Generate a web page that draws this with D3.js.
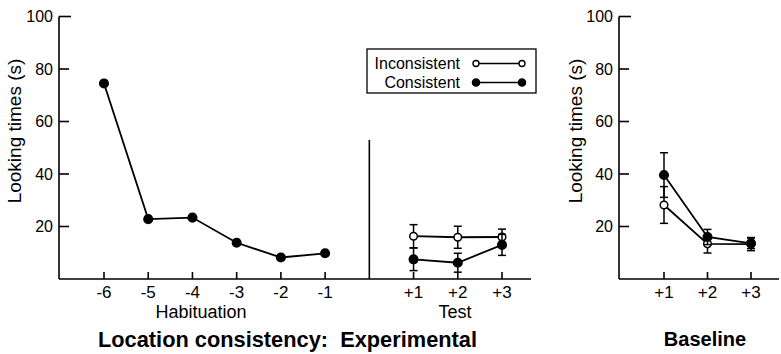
<!DOCTYPE html>
<html><head><meta charset="utf-8">
<script src="https://cdn.jsdelivr.net/npm/d3@7"></script>
<style>body{margin:0;background:#fff}svg{display:block}text{font-family:"Liberation Sans",Arial,sans-serif;fill:#000}</style>
</head><body>
<svg id="c" width="781" height="354"></svg>
<script>
// Data
const habTrials = [-6, -5, -4, -3, -2, -1];
const habValues = [74.5, 22.8, 23.4, 13.8, 8.2, 9.8];
const testTrials = [1, 2, 3];
const testInconsistent = [16.3, 15.9, 16.0];
const testInconsistentErr = [4.4, 4.2, 3.0];
const testConsistent = [7.5, 6.2, 13.0];
const testConsistentErr = [4.3, 3.6, 4.0];
const baseTrials = [1, 2, 3];
const baseInconsistent = [28.2, 13.4, 13.3];
const baseInconsistentErr = [7.0, 3.5, 2.5];
const baseConsistent = [39.6, 16.0, 13.6];
const baseConsistentErr = [8.5, 2.9, 2.0];
const yTicks = [20, 40, 60, 80, 100];
const habTickLabels = ["-6", "-5", "-4", "-3", "-2", "-1"];
const testTickLabels = ["+1", "+2", "+3"];
const legendLabels = ["Inconsistent", "Consistent"];

const svg = d3.select("#c");
const y = d3.scaleLinear().domain([0, 100]).range([279, 16.5]);
const xL = d3.scaleLinear().domain([-6, 3]).range([104, 502]);
const xR = d3.scaleLinear().domain([1, 3]).range([664, 751]);

function yAxis(x0, labelX) {
  const g = svg.append("g");
  g.append("line").attr("x1", x0).attr("x2", x0).attr("y1", y(100)).attr("y2", y(0)).attr("stroke", "#000").attr("stroke-width", 1.6);
  yTicks.forEach(t => {
    g.append("line").attr("x1", x0).attr("x2", x0 + (t === 100 ? 12 : 10)).attr("y1", y(t)).attr("y2", y(t)).attr("stroke", "#000").attr("stroke-width", 1.6);
    g.append("text").attr("x", x0 - 6).attr("y", y(t)).attr("dy", "0.35em").attr("text-anchor", "end").attr("font-size", 16).text(t);
  });
  g.append("text").attr("transform", `translate(${labelX},131) rotate(-90)`).attr("text-anchor", "middle").attr("dy", "0.35em").attr("font-size", 19).text("Looking times (s)");
}
yAxis(59, 14);
yAxis(619, 575);

// baselines
svg.append("line").attr("x1", 59).attr("x2", 531).attr("y1", y(0)).attr("y2", y(0)).attr("stroke", "#000").attr("stroke-width", 1.6);
svg.append("line").attr("x1", 619).attr("x2", 779).attr("y1", y(0)).attr("y2", y(0)).attr("stroke", "#000").attr("stroke-width", 1.6);
// separator
svg.append("line").attr("x1", xL(0)).attr("x2", xL(0)).attr("y1", y(53)).attr("y2", y(0)).attr("stroke", "#000").attr("stroke-width", 1.6);

function xTicks(scale, vals, labels) {
  vals.forEach((v, i) => {
    svg.append("line").attr("x1", scale(v)).attr("x2", scale(v)).attr("y1", y(0)).attr("y2", y(0) - 7).attr("stroke", "#000").attr("stroke-width", 1.6);
    svg.append("text").attr("x", scale(v)).attr("y", 292).attr("dy", "0.35em").attr("text-anchor", "middle").attr("font-size", 17).text(labels[i]);
  });
}
xTicks(xL, habTrials, habTickLabels);
xTicks(xL, testTrials, testTickLabels);
xTicks(xR, baseTrials, testTickLabels);

svg.append("text").attr("x", 201).attr("y", 311.5).attr("dy", "0.35em").attr("text-anchor", "middle").attr("font-size", 18).text("Habituation");
svg.append("text").attr("x", 455).attr("y", 311.5).attr("dy", "0.35em").attr("text-anchor", "middle").attr("font-size", 18).text("Test");
svg.append("text").attr("x", 98).attr("y", 339).attr("dy", "0.35em").attr("font-size", 22).attr("font-weight", "bold")
  .attr("textLength", 379).attr("lengthAdjust", "spacingAndGlyphs").style("white-space", "pre").text("Location consistency:  Experimental");
svg.append("text").attr("x", 705).attr("y", 339).attr("dy", "0.35em").attr("text-anchor", "middle").attr("font-size", 20).attr("font-weight", "bold").text("Baseline");

const line = (sx, xs) => d3.line().x((d, i) => sx(xs[i])).y(d => y(d));

function series(sx, xs, vals, errs, filled) {
  if (errs) {
    vals.forEach((v, i) => {
      const cx = sx(xs[i]);
      svg.append("line").attr("x1", cx).attr("x2", cx).attr("y1", y(v + errs[i])).attr("y2", y(v - errs[i])).attr("stroke", "#000").attr("stroke-width", 1.5);
      [v + errs[i], v - errs[i]].forEach(e => {
        svg.append("line").attr("x1", cx - 4).attr("x2", cx + 4).attr("y1", y(e)).attr("y2", y(e)).attr("stroke", "#000").attr("stroke-width", 1.5);
      });
    });
  }
  svg.append("path").datum(vals).attr("d", line(sx, xs)).attr("fill", "none").attr("stroke", "#000").attr("stroke-width", 1.8);
  svg.selectAll(null).data(vals).enter().append("circle")
    .attr("cx", (d, i) => sx(xs[i])).attr("cy", d => y(d)).attr("r", filled ? 4.3 : 3.8)
    .attr("fill", filled ? "#000" : "#fff").attr("stroke", "#000").attr("stroke-width", 1.5);
}
series(xL, habTrials, habValues, null, true);
series(xL, testTrials, testInconsistent, testInconsistentErr, false);
series(xL, testTrials, testConsistent, testConsistentErr, true);
series(xR, baseTrials, baseInconsistent, baseInconsistentErr, false);
series(xR, baseTrials, baseConsistent, baseConsistentErr, true);

// legend
const lg = svg.append("g");
lg.append("rect").attr("x", 367).attr("y", 49).attr("width", 169).attr("height", 44).attr("fill", "#fff").attr("stroke", "#000").attr("stroke-width", 1.3);
legendLabels.forEach((lab, i) => {
  const yy = 63.5 + i * 19;
  lg.append("text").attr("x", 460).attr("y", yy).attr("dy", "0.35em").attr("text-anchor", "end").attr("font-size", 16).text(lab);
  lg.append("line").attr("x1", 476).attr("x2", 522).attr("y1", yy).attr("y2", yy).attr("stroke", "#000").attr("stroke-width", 1.5);
  [476, 522].forEach(cx => lg.append("circle").attr("cx", cx).attr("cy", yy).attr("r", i === 0 ? 3 : 3.6).attr("fill", i === 0 ? "#fff" : "#000").attr("stroke", "#000").attr("stroke-width", 1.4));
});
</script>
</body></html>
